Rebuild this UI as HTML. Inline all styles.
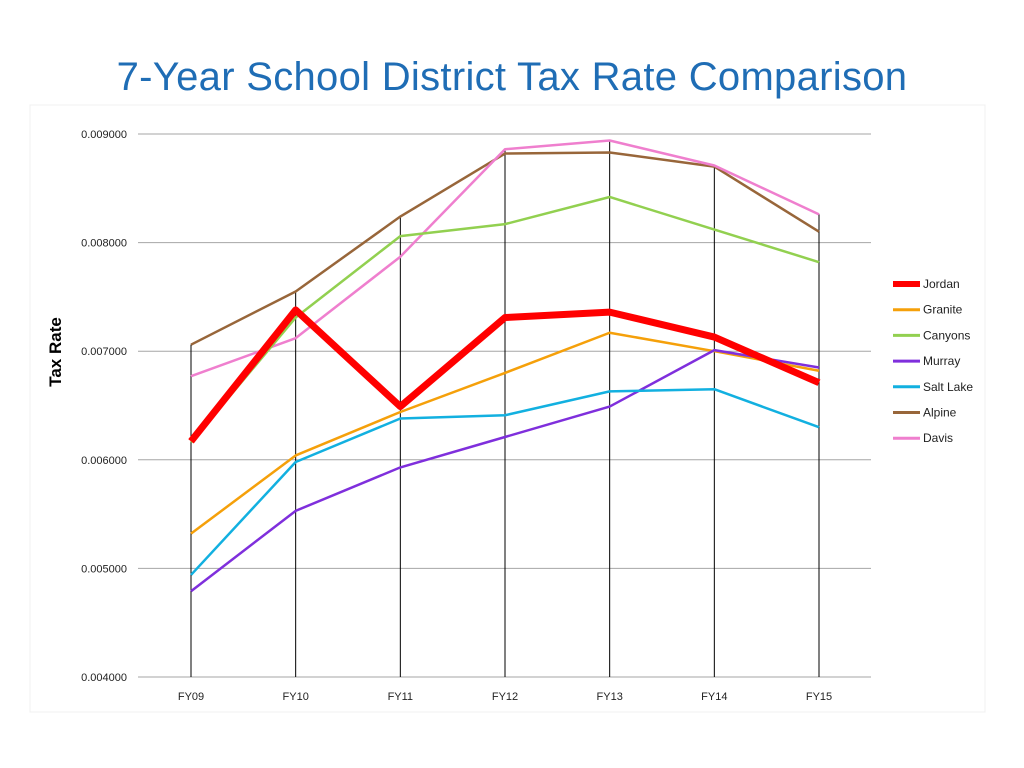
<!DOCTYPE html>
<html><head><meta charset="utf-8"><style>
body{margin:0;width:1024px;height:768px;background:#fff;overflow:hidden;font-family:"Liberation Sans",sans-serif}
#title{position:absolute;left:0;width:1024px;top:55px;text-align:center;font-size:40px;color:#1f6db5;font-family:"Liberation Sans",sans-serif;letter-spacing:0.3px}
svg{position:absolute;left:0;top:0}
</style></head><body>
<div id="title">7-Year School District Tax Rate Comparison</div>
<svg id="c" width="1024" height="768"></svg>
<script>
const categories=["FY09","FY10","FY11","FY12","FY13","FY14","FY15"];
const yTicks=[0.004,0.005,0.006,0.007,0.008,0.009];
const seriesNames=["Jordan","Granite","Canyons","Murray","Salt Lake","Alpine","Davis"];
const seriesColors=["#ff0000","#f5a00a","#92d050","#7f2fdc","#12b0e0","#98663a","#ef7fce"];
const jordan=[0.00617,0.00738,0.00649,0.00731,0.00736,0.00713,0.00671];
const granite=[0.00532,0.00604,0.00644,0.00680,0.00717,0.00700,0.00682];
const canyons=[0.00616,0.00731,0.00806,0.00817,0.00842,0.00812,0.00782];
const murray=[0.00479,0.00553,0.00593,0.00621,0.00649,0.00701,0.00685];
const saltLake=[0.00494,0.00598,0.00638,0.00641,0.00663,0.00665,0.00630];
const alpine=[0.00706,0.00755,0.00824,0.00882,0.00883,0.00870,0.00810];
const davis=[0.00677,0.00712,0.00787,0.00886,0.00894,0.00871,0.00826];
const allSeries=[jordan,granite,canyons,murray,saltLake,alpine,davis];
const NS="http://www.w3.org/2000/svg",svg=document.getElementById('c');
const X0=191,X1=819,Y0=677,Y1=134;
const x=i=>X0+(X1-X0)*i/(categories.length-1);
const y=v=>Y0-(v-0.004)/(0.005)*(Y0-Y1);
function mk(t,a,p){const e=document.createElementNS(NS,t);for(const k in a)e.setAttribute(k,a[k]);(p||svg).appendChild(e);return e;}
const bg=mk('rect',{x:30,y:105,width:955,height:607,fill:"#fff",stroke:"#f0f0f0"});


yTicks.forEach(t=>{
 const g=mk('line',{x1:138,x2:871,y1:y(t),y2:y(t),stroke:"#a6a6a6","stroke-width":1});
 
 
 const l=mk('text',{x:127,y:y(t)+4,"text-anchor":"end","font-size":11,fill:"#222"});
 l.textContent=t.toFixed(6);
 
 
});
categories.forEach((c,i)=>{
 const top=Math.max(...allSeries.map(s=>s[i]));
 const d=mk('line',{x1:x(i),x2:x(i),y1:y(top),y2:Y0,stroke:"#000","stroke-width":1});
 
 
 const l=mk('text',{x:x(i),y:700,"text-anchor":"middle","font-size":11,fill:"#222"});
 l.textContent=c;
 
 
});
const yt=mk('text',{x:0,y:0,transform:"translate(61,352) rotate(-90)","text-anchor":"middle","font-size":17,"font-weight":"bold",fill:"#000"});
yt.textContent="Tax Rate";


[5,6,2,1,3,4,0].forEach(si=>{
 const s=allSeries[si];
 const p=mk('polyline',{points:s.map((v,i)=>x(i)+","+y(v)).join(" "),fill:"none",stroke:seriesColors[si],"stroke-width":si===0?7:2.5,"stroke-linejoin":"round"});
 
 
});
seriesNames.forEach((n,i)=>{
 const yy=284+i*25.7;
 const sw=mk('line',{x1:893,x2:920,y1:yy,y2:yy,stroke:seriesColors[i],"stroke-width":i===0?6:3});
 
 
 const t=mk('text',{x:923,y:yy+4,"font-size":12,fill:"#222"});
 t.textContent=n;
 
 
});
</script>
</body></html>
